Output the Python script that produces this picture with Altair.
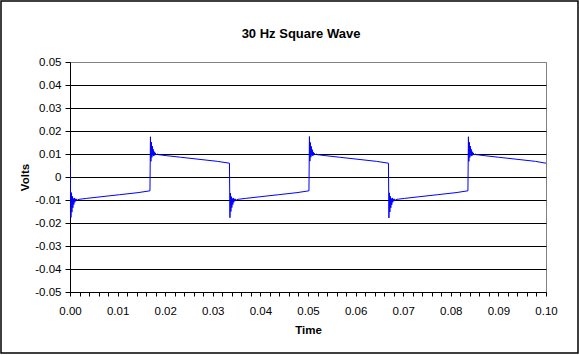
import altair as alt
import pandas as pd

TITLE = "30 Hz Square Wave"
X_TITLE = "Time"
Y_TITLE = "Volts"

X_TICKS = [round(i * 0.002, 3) for i in range(51)]
Y_TICKS = [-0.05, -0.04, -0.03, -0.02, -0.01, 0.0, 0.01, 0.02, 0.03, 0.04, 0.05]

# (time, volts), one list per half cycle
SEG_FALL_1 = [
    (0.0000, 0.0058), (0.0002, -0.0176), (0.0003, -0.0068), (0.0004, -0.0153),
    (0.0005, -0.0084), (0.0006, -0.0134), (0.0007, -0.0094), (0.0008, -0.0120),
    (0.0009, -0.0091), (0.0010, -0.0110), (0.0011, -0.0095), (0.0012, -0.0105),
    (0.0014, -0.0096), (0.0016, -0.0100), (0.0019, -0.0097), (0.0023, -0.0096),
    (0.0035, -0.0093), (0.0065, -0.0086), (0.0104, -0.0077), (0.0143, -0.0068),
    (0.0168, -0.0060),
]
SEG_RISE_1 = [
    (0.0169, 0.0175), (0.0170, 0.0068), (0.0171, 0.0152), (0.0172, 0.0085),
    (0.0173, 0.0134), (0.0174, 0.0094), (0.0175, 0.0120), (0.0176, 0.0091),
    (0.0177, 0.0110), (0.0178, 0.0095), (0.0179, 0.0105), (0.0181, 0.0096),
    (0.0183, 0.0100), (0.0186, 0.0097), (0.0190, 0.0096), (0.0202, 0.0093),
    (0.0232, 0.0086), (0.0271, 0.0077), (0.0310, 0.0068), (0.0335, 0.0060),
]
SEG_FALL_2 = [
    (0.0336, -0.0177), (0.0337, -0.0070), (0.0338, -0.0150), (0.0339, -0.0085),
    (0.0340, -0.0133), (0.0341, -0.0094), (0.0342, -0.0120), (0.0343, -0.0091),
    (0.0344, -0.0110), (0.0345, -0.0095), (0.0346, -0.0105), (0.0348, -0.0096),
    (0.0350, -0.0100), (0.0353, -0.0097), (0.0357, -0.0096), (0.0369, -0.0093),
    (0.0399, -0.0086), (0.0438, -0.0077), (0.0477, -0.0068), (0.0502, -0.0060),
]
SEG_RISE_2 = [
    (0.0503, 0.0176), (0.0504, 0.0069), (0.0505, 0.0150), (0.0506, 0.0086),
    (0.0507, 0.0133), (0.0508, 0.0094), (0.0509, 0.0119), (0.0510, 0.0092),
    (0.0511, 0.0109), (0.0512, 0.0095), (0.0513, 0.0104), (0.0515, 0.0096),
    (0.0517, 0.0100), (0.0520, 0.0097), (0.0524, 0.0096), (0.0536, 0.0093),
    (0.0566, 0.0086), (0.0605, 0.0077), (0.0644, 0.0068), (0.0669, 0.0060),
]
SEG_FALL_3 = [
    (0.0670, -0.0178), (0.0671, -0.0069), (0.0672, -0.0152), (0.0673, -0.0084),
    (0.0674, -0.0134), (0.0675, -0.0094), (0.0676, -0.0121), (0.0677, -0.0091),
    (0.0678, -0.0110), (0.0679, -0.0095), (0.0680, -0.0105), (0.0682, -0.0096),
    (0.0684, -0.0100), (0.0687, -0.0097), (0.0691, -0.0096), (0.0703, -0.0093),
    (0.0733, -0.0086), (0.0772, -0.0077), (0.0811, -0.0068), (0.0836, -0.0060),
]
SEG_RISE_3 = [
    (0.0837, 0.0175), (0.0838, 0.0068), (0.0839, 0.0151), (0.0840, 0.0085),
    (0.0841, 0.0134), (0.0842, 0.0094), (0.0843, 0.0120), (0.0844, 0.0091),
    (0.0845, 0.0110), (0.0846, 0.0095), (0.0847, 0.0105), (0.0849, 0.0096),
    (0.0851, 0.0100), (0.0854, 0.0097), (0.0858, 0.0096), (0.0870, 0.0093),
    (0.0900, 0.0086), (0.0939, 0.0077), (0.0978, 0.0068), (0.1000, 0.0060),
]

SEGMENTS = [SEG_FALL_1, SEG_RISE_1, SEG_FALL_2, SEG_RISE_2, SEG_FALL_3, SEG_RISE_3]
rows = [pt for seg in SEGMENTS for pt in seg]
df = pd.DataFrame({
    "t": [r[0] for r in rows],
    "v": [r[1] for r in rows],
    "i": list(range(len(rows))),
})

W, H = 476, 230
FONT = "Liberation Sans"
LABEL_SIZE = 11.5

x_label_expr = ("abs(datum.value * 100 - round(datum.value * 100)) < 0.001 ? "
                "format(datum.value, '.2f') : ''")
y_label_expr = ("abs(datum.value) < 0.0001 ? '0' : "
                "(datum.value < 0 ? '-' : '') + format(abs(datum.value), '.2f')")

line = alt.Chart(df).mark_line(color="#0000ff", strokeWidth=1, clip=True).encode(
    x=alt.X(
        "t:Q",
        scale=alt.Scale(domain=[0, 0.1], nice=False, zero=False),
        axis=alt.Axis(
            values=X_TICKS, labelExpr=x_label_expr, labelFlush=False,
            labelOverlap=False, grid=False, tickSize=4, tickColor="black",
            domainColor="black", labelFont=FONT, labelFontSize=LABEL_SIZE,
            labelColor="black", labelPadding=9, title=X_TITLE, titleFont=FONT,
            titleFontSize=11.5, titleFontWeight="bold", titleColor="black",
            titleY=41, titleBaseline="alphabetic",
        ),
    ),
    y=alt.Y(
        "v:Q",
        scale=alt.Scale(domain=[-0.05, 0.05], nice=False, zero=False),
        axis=alt.Axis(
            values=Y_TICKS, labelExpr=y_label_expr, grid=True,
            gridColor={"condition": {"test": "datum.value > 0.045", "value": "#808080"},
                       "value": "#000000"},
            gridWidth=1, tickSize=5, tickColor="black", domainColor="black",
            labelFont=FONT, labelFontSize=LABEL_SIZE, labelColor="black",
            labelPadding=4, title=Y_TITLE, titleFont=FONT, titleFontSize=11.5,
            titleFontWeight="bold", titleColor="black", titleX=-42, titleY=H / 2,
            titleAngle=-90, titleAlign="center", titleBaseline="alphabetic",
        ),
    ),
    order="i:Q",
)

one_row = pd.DataFrame({"label": [TITLE]})

border = alt.Chart(one_row).mark_rect(
    filled=False, stroke="black", strokeWidth=1.5, clip=False
).encode(
    x=alt.value(-69), x2=alt.value(508), y=alt.value(-61), y2=alt.value(291)
)

title = alt.Chart(one_row).mark_text(
    font=FONT, fontSize=13, fontWeight="bold", color="black",
    align="center", baseline="alphabetic", clip=False,
).encode(text="label:N", x=alt.value(231), y=alt.value(-24))

chart = alt.layer(border, line, title).properties(
    width=W, height=H,
    autosize=alt.AutoSizeParams(type="none"),
    padding={"left": 70, "top": 62, "right": 33, "bottom": 63},
    background="white",
).configure_view(stroke="#808080", strokeWidth=1)

chart.save("out.html", embed_options={"renderer": "svg", "actions": False})
